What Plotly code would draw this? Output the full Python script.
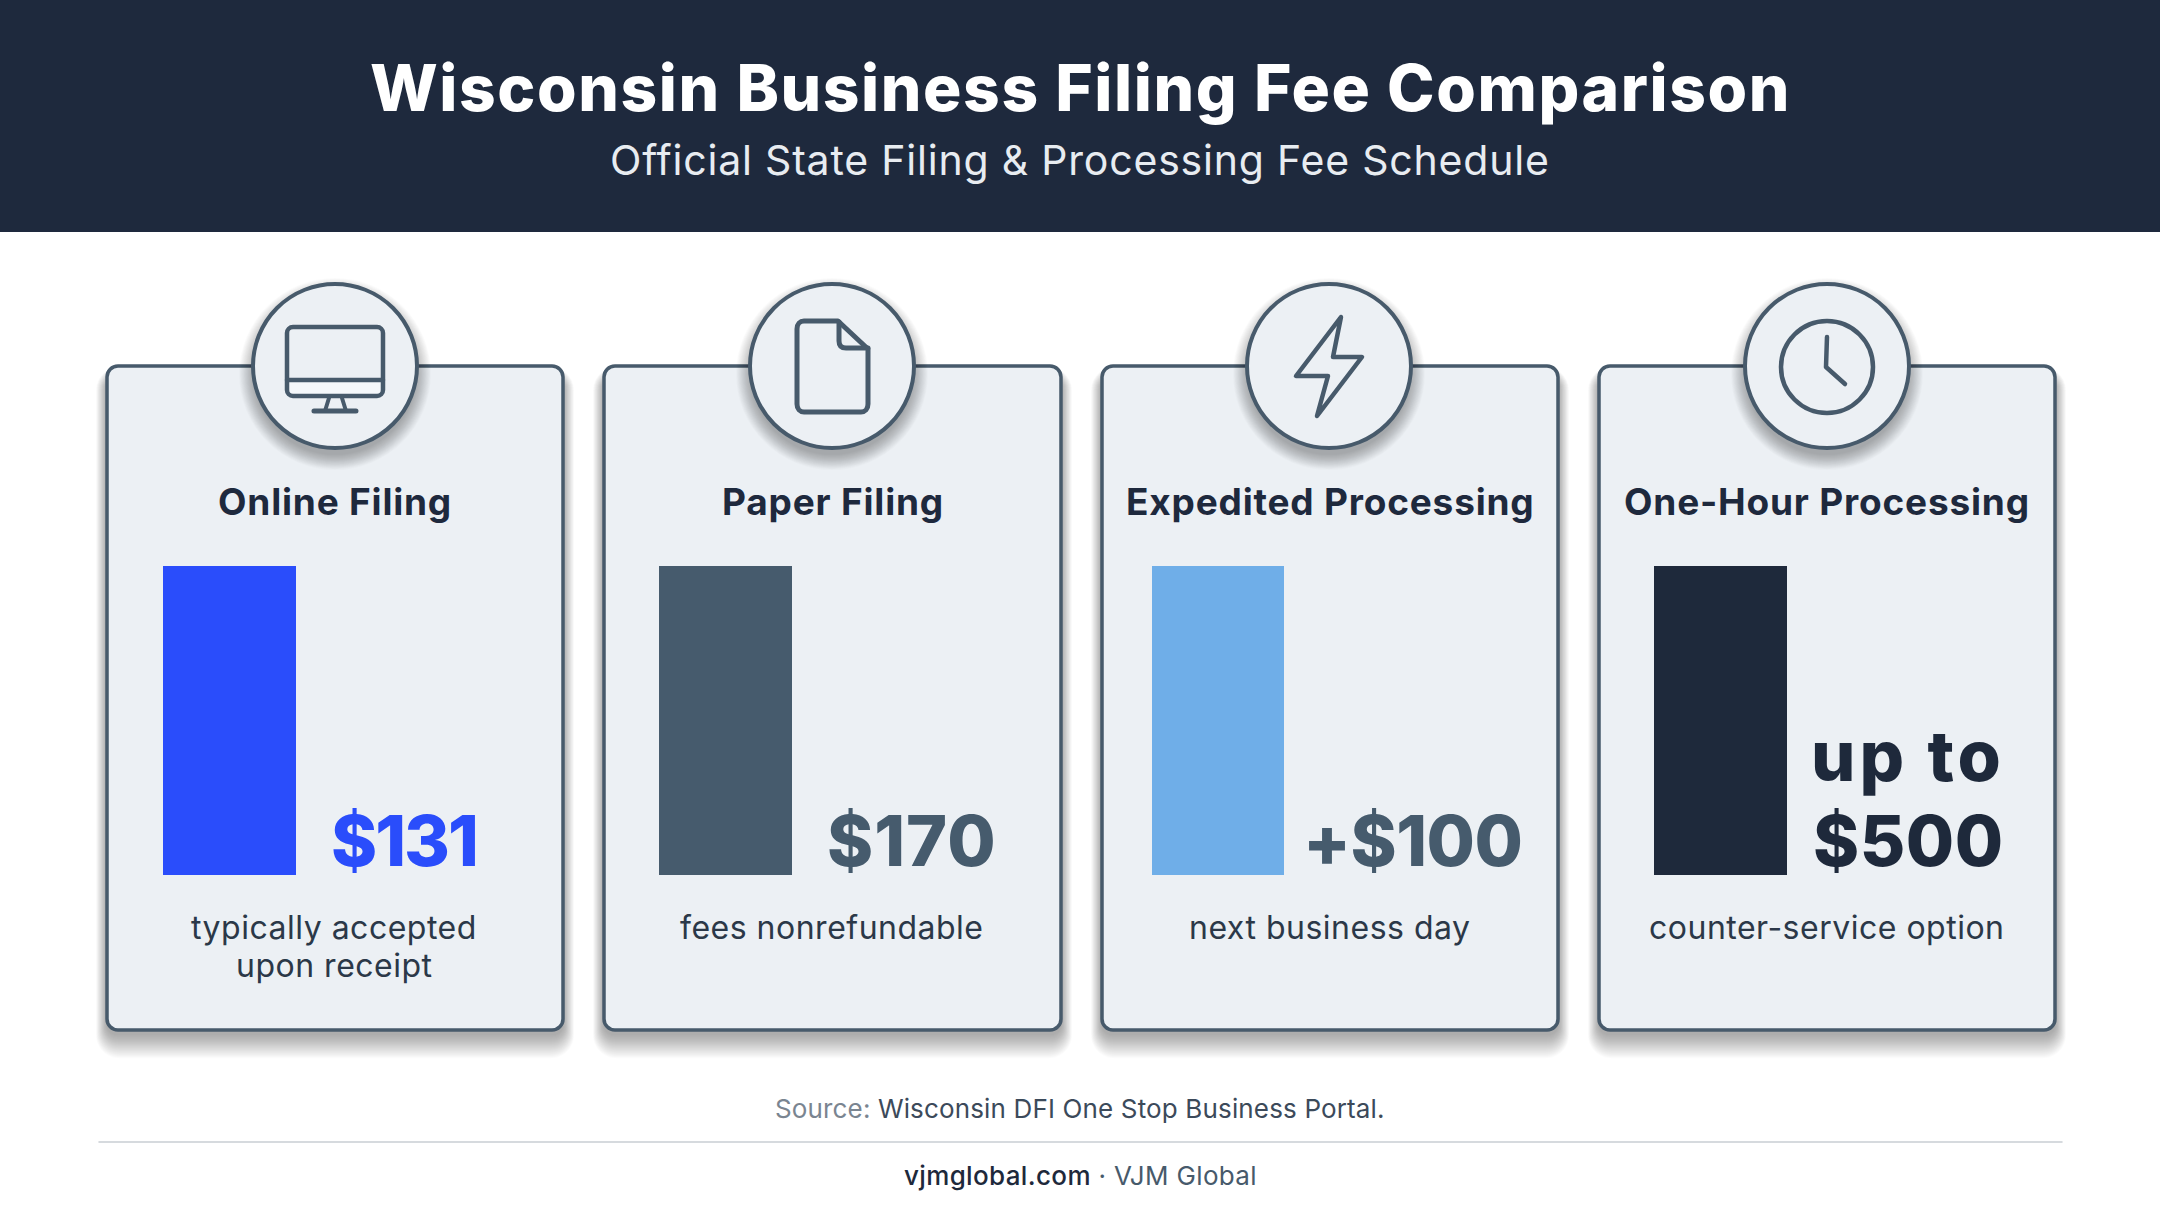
import plotly.graph_objects as go

# ---------- data ----------
categories = ["Online Filing", "Paper Filing", "Expedited Processing", "One-Hour Processing"]
bar_levels = [1, 1, 1, 1]  # all four bars are drawn the same height in the picture
value_labels = [["$131"], ["$170"], ["+$100"], ["up to", "$500"]]
notes = [["typically accepted", "upon receipt"], ["fees nonrefundable"], ["next business day"], ["counter-service option"]]
title_text = "Wisconsin Business Filing Fee Comparison"
subtitle_text = "Official State Filing &amp; Processing Fee Schedule"
source_label = "Source:"
source_text = "Wisconsin DFI One Stop Business Portal."
footer_site = "vjmglobal.com"
footer_name = " · VJM Global"

# ---------- style / layout ----------
W, H = 2160, 1206
NAVY = "#1E293D"
SLATE = "#475A6B"
CARD = "#ECF0F4"
SHADOW = "rgba(30,30,30,0.014)"
BAR_COLORS = ["#2A4DFB", "#465B6D", "#6FAEE8", "#1E293B"]
VALUE_COLORS = ["#2A4DFB", "#465B6D", "#465B6D", "#1E293B"]
FONT = "Inter"
CARD_X = [(107, 563), (604, 1061), (1102, 1558), (1599, 2055)]
CARD_TOP, CARD_BOTTOM = 366, 1030
BAR_X = [(163, 296), (659, 792), (1152, 1284), (1654, 1787)]
BAR_TOP, BAR_BOTTOM = 566, 875
CIRCLE_X = [335, 832, 1329, 1827]
CIRCLE_Y, CIRCLE_R = 366, 82
VALUE_X = [404, 912, 1412, 1908]
VALUE_SPACING = {"$131": -2, "$170": 1, "+$100": -0.5, "up to": 4, "$500": 0.5}


def px(x):
    return x / W


def py(y):
    return 1 - y / H


def pt(x, y):
    return f"{px(x):.5f},{py(y):.5f}"


def round_rect(x0, y0, x1, y1, r):
    k = r * 0.45
    return (
        f"M{pt(x0 + r, y0)} L{pt(x1 - r, y0)} C{pt(x1 - k, y0)} {pt(x1, y0 + k)} {pt(x1, y0 + r)} "
        f"L{pt(x1, y1 - r)} C{pt(x1, y1 - k)} {pt(x1 - k, y1)} {pt(x1 - r, y1)} "
        f"L{pt(x0 + r, y1)} C{pt(x0 + k, y1)} {pt(x0, y1 - k)} {pt(x0, y1 - r)} "
        f"L{pt(x0, y0 + r)} C{pt(x0, y0 + k)} {pt(x0 + k, y0)} {pt(x0 + r, y0)} Z"
    )


def poly(points, close=False):
    s = "M" + " L".join(pt(x, y) for x, y in points)
    return s + (" Z" if close else "")


shapes = []


def path(d, fill=None, line=None, lw=0):
    s = dict(type="path", path=d, xref="paper", yref="paper", layer="below")
    s["fillcolor"] = fill if fill else "rgba(0,0,0,0)"
    s["line"] = dict(color=line, width=lw) if line else dict(width=0)
    shapes.append(s)


def oval(cx, cy, r, fill=None, line=None, lw=0):
    s = dict(type="circle", xref="paper", yref="paper", layer="below",
             x0=px(cx - r), x1=px(cx + r), y0=py(cy + r), y1=py(cy - r))
    s["fillcolor"] = fill if fill else "rgba(0,0,0,0)"
    s["line"] = dict(color=line, width=lw) if line else dict(width=0)
    shapes.append(s)


# header band
shapes.append(dict(type="rect", xref="paper", yref="paper", layer="below",
                   x0=0, x1=1, y0=py(232), y1=1, fillcolor=NAVY, line=dict(width=0)))
# footer rule
shapes.append(dict(type="line", xref="paper", yref="paper", layer="below",
                   x0=px(99), x1=px(2062), y0=py(1142), y1=py(1142),
                   line=dict(color="#C9CED3", width=1.5)))

# cards with soft layered shadows
for (x0, x1) in CARD_X:
    for i in range(22, 0, -1):
        path(round_rect(x0 - 0.5 * i, CARD_TOP + 12 - 0.5 * i, x1 + 0.5 * i, CARD_BOTTOM + 4 + 1.1 * i, 10 + 0.6 * i),
             fill=SHADOW)
    path(round_rect(x0, CARD_TOP, x1, CARD_BOTTOM, 11), fill=CARD, line=SLATE, lw=3.5)

# icon circles with shadows
for cx in CIRCLE_X:
    for i in range(20, 0, -1):
        oval(cx, CIRCLE_Y + 8, CIRCLE_R + 0.8 * i - 2, fill=SHADOW)
    oval(cx, CIRCLE_Y, CIRCLE_R, fill=CARD, line=SLATE, lw=4)

# icon 1: monitor
path(round_rect(287, 380, 383, 396, 5), fill="#F5F8FB")
path(round_rect(287, 327, 383, 396, 6), line=SLATE, lw=4.5)
path(poly([(287, 380), (383, 380)]), line=SLATE, lw=4.5)
path(poly([(329, 398), (325, 411)]), line=SLATE, lw=4)
path(poly([(342, 398), (346, 411)]), line=SLATE, lw=4)
path(poly([(314, 411), (356, 411)]), line=SLATE, lw=5)

# icon 2: document
path(f"M{pt(804, 321)} L{pt(838, 321)} L{pt(868, 349)} L{pt(868, 404)} "
     f"C{pt(868, 409)} {pt(865, 412)} {pt(861, 412)} L{pt(804, 412)} "
     f"C{pt(800, 412)} {pt(797, 409)} {pt(797, 404)} L{pt(797, 329)} "
     f"C{pt(797, 324)} {pt(800, 321)} {pt(804, 321)} Z", line=SLATE, lw=5)
path(f"M{pt(839, 322)} L{pt(839, 341)} C{pt(839, 346)} {pt(842, 348)} {pt(846, 348)} L{pt(868, 348)}",
     line=SLATE, lw=5)

# icon 3: lightning bolt
path(poly([(1341, 317), (1296, 376), (1328, 376), (1317, 416), (1362, 357), (1333, 357)], close=True),
     line=SLATE, lw=4.5)

# icon 4: clock
oval(1827, 367, 46, line=SLATE, lw=4.5)
path(poly([(1827, 337), (1826, 367), (1845, 384)]), line=SLATE, lw=4.5)

# ---------- bars: one small hidden-axis plot per card ----------
fig = go.Figure()
layout_axes = {}
for i, cat in enumerate(categories):
    suffix = "" if i == 0 else str(i + 1)
    fig.add_trace(go.Bar(x=[cat], y=[bar_levels[i]], marker=dict(color=BAR_COLORS[i], line=dict(width=0)),
                         xaxis="x" + suffix, yaxis="y" + suffix, showlegend=False, name=cat, width=1))
    layout_axes["xaxis" + suffix] = dict(domain=[px(BAR_X[i][0]), px(BAR_X[i][1])], visible=False,
                                         anchor="y" + suffix, type="category")
    layout_axes["yaxis" + suffix] = dict(domain=[py(BAR_BOTTOM), py(BAR_TOP)], visible=False,
                                         anchor="x" + suffix, range=[0, max(bar_levels)])

# ---------- text ----------
ann = []


def text(x, y, s, size, color, weight=400, spacing=0):
    body = f"<span style='letter-spacing:{spacing}px'>{s}</span>" if spacing else s
    ann.append(dict(x=px(x), y=py(y), xref="paper", yref="paper", text=body, showarrow=False,
                    xanchor="center", yanchor="middle",
                    font=dict(family=FONT, size=size, color=color, weight=weight)))


text(1080, 87.6, title_text, 64, "#FFFFFF", 800, 1.6)
text(1080, 160, subtitle_text, 41, "#E8ECF1", 400, 0.8)
for i, cat in enumerate(categories):
    cx = (CARD_X[i][0] + CARD_X[i][1]) / 2
    text(cx, 501.5, cat, 37, NAVY, 700, 0.8)
    labs = value_labels[i]
    for j, lab in enumerate(labs):
        text(VALUE_X[i], 840 - 85 * (len(labs) - 1 - j), lab, 70, VALUE_COLORS[i], 800, VALUE_SPACING[lab])
    for j, n in enumerate(notes[i]):
        text(cx - 1, 927 + 38.5 * j, n, 32, "#2B3848", 400, 0.5)

text(1080, 1108,
     f"<span style='color:#7A8591;letter-spacing:0.15px'>{source_label}</span> "
     f"<span style='color:#3C4A5A;letter-spacing:0.15px'>{source_text}</span>", 26, "#3C4A5A")
text(1080, 1175,
     f"<span style='color:#1E293B;font-weight:500;letter-spacing:0.35px'>{footer_site}</span>"
     f"<span style='color:#475A6B;letter-spacing:0.35px'>{footer_name}</span>", 26, "#475A6B")

fig.update_layout(width=W, height=H, margin=dict(l=0, r=0, t=0, b=0, pad=0),
                  paper_bgcolor="#FFFFFF", plot_bgcolor="rgba(0,0,0,0)",
                  bargap=0, shapes=shapes, annotations=ann, **layout_axes)

fig.write_html("out.html", config=dict(displayModeBar=False), post_script=(
    "document.body.style.margin='0';document.body.style.overflow='hidden';"
    "document.querySelectorAll('.shapelayer path').forEach(function(p){"
    "p.style.strokeLinejoin='round';p.style.strokeLinecap='round';});"
))
